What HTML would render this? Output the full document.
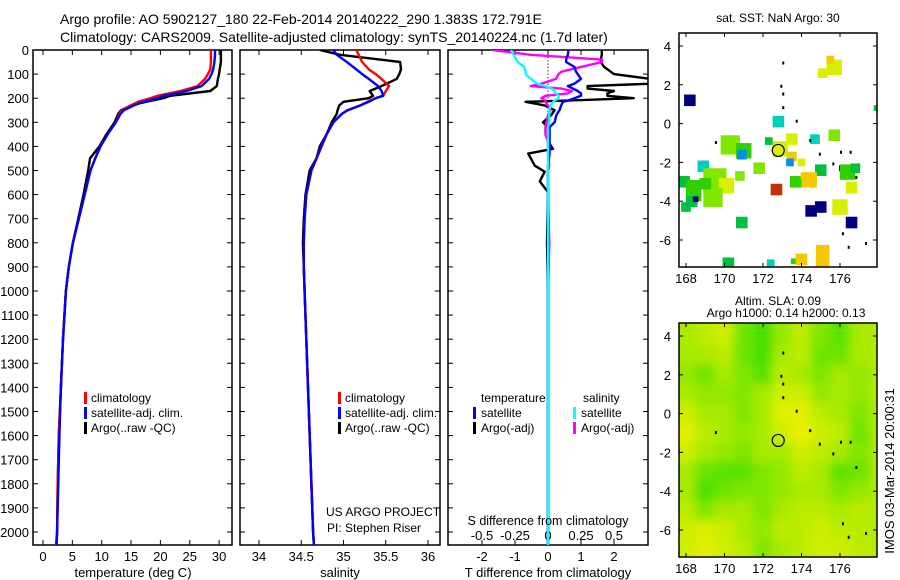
<!DOCTYPE html>
<html><head><meta charset="utf-8"><style>
html,body{margin:0;padding:0;background:#fff;}
svg{display:block;font-family:"Liberation Sans",sans-serif;}
text{fill:#000;}
</style></head><body>
<svg id="fig" width="900" height="580" viewBox="0 0 900 580" xmlns="http://www.w3.org/2000/svg">
<text x="60" y="24" font-size="14">Argo profile: AO 5902127_180 22-Feb-2014 20140222_290 1.383S 172.791E</text>
<text x="60" y="42" font-size="14">Climatology: CARS2009. Satellite-adjusted climatology: synTS_20140224.nc (1.7d later)</text>
<g id="g"></g>
</svg>
<script>
// ---------- data ----------
const depthTicks=[0,100,200,300,400,500,600,700,800,900,1000,1100,1200,1300,1400,1500,1600,1700,1800,1900,2000];
const tempTicks=[0,5,10,15,20,25,30];
const salTicks=[34,34.5,35,35.5,36];
const tdTicks=[-2,-1,0,1,2];
const sdTicks=[-0.5,-0.25,0,0.25,0.5];
const sdTickLabels=["-0.5","-0.25","0","0.25","0.5"];
const profDepth=[0,20,50,80,100,120,150,170,190,200,215,230,250,265,300,350,400,450,500,600,700,800,900,1000,1200,1400,1600,1800,2000,2054];
const tempClim=[28.6,28.6,28.6,28.5,28.1,27.6,26.3,23.4,19.5,18.3,16.2,14.9,13.5,13.0,12.4,11.0,9.8,8.9,8.1,7.1,6.1,5.1,4.4,3.9,3.4,3.05,2.7,2.5,2.4,2.2];
const tempSat=[29.3,29.3,29.2,29.0,28.7,28.3,27.0,24.5,20.5,19.5,17.0,15.5,13.8,13.2,12.4,11.0,9.8,8.9,8.1,7.1,6.1,5.1,4.4,3.9,3.4,3.05,2.8,2.6,2.4,2.3];
const tempArgo=[30.3,30.3,30.3,30.1,30.0,29.8,29.6,28.5,21.7,20.5,17.5,15.0,13.3,12.8,12.2,10.8,9.6,8.0,7.7,6.9,6.0,5.1,4.4,3.9,3.4,3.05,2.7,2.5,2.4,2.3];
const salClim=[35.15,35.18,35.22,35.3,35.38,35.45,35.54,35.5,35.47,35.38,35.28,35.2,35.05,34.98,34.88,34.8,34.74,34.68,34.62,34.56,34.54,34.53,34.53,34.54,34.56,34.58,34.6,34.62,34.64,34.65];
const salSat=[34.88,34.92,35.04,35.15,35.22,35.3,35.41,35.45,35.47,35.38,35.3,35.2,35.05,34.98,34.88,34.8,34.74,34.68,34.62,34.56,34.54,34.53,34.53,34.54,34.56,34.58,34.6,34.62,34.64,34.65];
const salArgo=[34.72,34.96,35.67,35.68,35.66,35.63,35.45,35.31,35.35,35.3,35.0,34.95,34.93,34.92,34.86,34.8,34.72,34.68,34.6,34.55,34.53,34.52,34.53,34.54,34.56,34.58,34.6,34.62,34.64,34.65];
const diffDepth=[0,20,40,50,70,90,100,120,140,150,160,170,180,190,200,210,215,230,250,270,300,320,350,380,410,430,480,505,545,590,800,1000,1500,2000,2054];
const tdSat=[0.62,0.6,0.55,0.55,0.8,0.85,0.9,1.0,0.8,0.6,0.75,0.9,1.0,1.0,0.8,0.6,0.45,0.4,0.35,0.25,0.2,0.05,0.05,0.05,0.05,0.05,0.0,0.0,0.0,0.0,0.0,0.0,0.0,0.0,0.0];
const tdArgo=[1.63,1.63,1.6,1.6,1.7,1.9,2.0,3.1,3.1,1.2,1.2,2.0,1.8,1.8,2.6,0.6,-0.68,-0.1,0.2,0.1,-0.15,0.0,0.0,0.0,0.15,-0.6,-0.4,-0.1,-0.25,0.0,-0.03,0.0,0.0,0.0,0.0];
const sdSat=[-0.28,-0.26,-0.24,-0.23,-0.18,-0.17,-0.17,-0.13,-0.08,-0.02,0.03,0.05,0.06,0.08,0.08,0.05,0.04,0.02,0.01,0.01,0.01,0.0,0.0,0.0,0.0,0.0,0.0,0.0,0.0,0.0,0.0,0.0,0.0,0.0,0.0];
const sdArgo=[-0.42,-0.13,0.41,0.41,0.25,0.1,0.08,0.06,-0.05,-0.13,0.1,0.18,0.15,-0.02,-0.05,-0.02,-0.02,0.0,0.02,0.0,-0.01,-0.02,-0.02,0.0,0.0,0.0,0.01,0.0,0.0,0.0,0.01,0.0,0.0,0.0,0.0];
const mapLonTicks=[168,170,172,174,176];
const mapLatTicks=[4,2,0,-2,-4,-6];
const sstLon=[168.2,174.5,175.0,176.6,176.1,172.8,168.9,174.7,170.2,170.9,172.3,173.7,175.0,175.7,177.9,173.6,175.1,174.0,175.1,172.7,172.9,173.5,173.5,174.0,175.1,175.7,175.5,176.6,176.0,174.4,170.3,171.8,169.5,170.1,169.4,167.9,168.4,168.3,168.0,168.6,169.0,170.8,171.0,173.4,170.9,176.4,176.8,174.1,172.4,168.5];
const sstLat=[1.2,-4.5,-4.3,-5.1,-2.3,0.1,-2.2,-0.8,-7.2,-5.1,-0.9,-3.0,-2.4,-0.6,0.8,-7.1,-6.6,-7.0,-7.1,-3.4,-1.3,-1.7,-0.8,-2.0,2.6,2.9,3.3,-3.3,-4.3,-2.9,-1.1,-2.3,-2.9,-3.2,-3.8,-3.0,-3.3,-4.0,-4.3,-3.8,-3.1,-2.7,-1.4,-2.0,-1.6,-2.5,-2.3,-2.7,-7.2,-3.9];
const sstSize=[0.6,0.6,0.6,0.6,0.3,0.6,0.6,0.5,0.6,0.6,0.4,0.6,0.6,0.6,0.3,0.3,0.7,0.6,0.7,0.6,0.8,0.5,0.6,0.4,0.5,0.8,0.4,0.6,0.8,0.8,1.0,0.6,1.2,0.8,1.0,0.6,0.8,0.6,0.5,0.4,0.6,0.5,0.8,0.4,0.5,0.8,0.5,0.3,0.4,0.3];
const sstCls=[0,0,0,0,0,1,1,1,2,2,2,3,2,4,2,3,6,6,6,7,5,6,5,5,5,5,6,5,5,6,4,4,4,5,4,2,3,2,2,3,3,4,3,8,8,3,2,6,1,0];
const slaLats=[4,3,2,1,0,-1,-2,-3,-4,-5,-6,-7];
const slaLons=[168,169,170,171,172,173,174,175,176,177];
const slaGrid=[
[.6,.7,.8,.3,.1,.5,.7,.4,.2,.6],
[.6,.6,.7,.3,.1,.6,.7,.3,.3,.6],
[.5,.3,.6,.4,.2,.7,.6,.4,.6,.5],
[.6,.5,.5,.4,.6,.8,.8,.5,.6,.5],
[.8,.6,.6,.4,.6,.9,.9,.7,.6,.4],
[.9,.7,.6,.5,.6,.8,.95,.8,.7,.3],
[.8,.6,.5,.4,.6,.6,.8,.7,.6,.4],
[.6,.3,.2,.2,.4,.5,.7,.6,.2,.3],
[.6,.1,.3,.4,.4,.5,.6,.6,.4,.5],
[.7,.4,.6,.6,.4,.6,.7,.7,.6,.7],
[.8,.85,.8,.6,.5,.7,.7,.8,.7,.7],
[.8,.9,.8,.7,.4,.6,.7,.8,.8,.7]];
const argoLon=172.791, argoLat=-1.383;

// ---------- drawing ----------
const NS="http://www.w3.org/2000/svg";
const G=document.getElementById('g');
function el(tag,attrs,parent){const e=document.createElementNS(NS,tag);for(const k in attrs)e.setAttribute(k,attrs[k]);(parent||G).appendChild(e);return e;}
function txt(x,y,s,size,anchor,name,parent){const t=el('text',{x:x,y:y,'font-size':size||12,'text-anchor':anchor||'start'},parent);t.textContent=s;


return t;}
const pTop=50,pBot=545,dMax=2054;
const yD=d=>pTop+(d/dMax)*(pBot-pTop);
function frame(x0,x1,name){const r=el('rect',{x:x0,y:pTop,width:x1-x0,height:pBot-pTop,fill:'none',stroke:'#000','stroke-width':1.5});

}
function yTicks(x0,x1,labels){depthTicks.forEach(d=>{const y=yD(d);
el('line',{x1:x0,y1:y,x2:x0+5,y2:y,stroke:'#000'});el('line',{x1:x1,y1:y,x2:x1-5,y2:y,stroke:'#000'});
if(labels)txt(x0-4,y+5,String(d),13,'end','depth-tick-label');});}
function xTicks(vals,fx,labs,ly,name){vals.forEach((v,i)=>{const x=fx(v);
el('line',{x1:x,y1:pTop,x2:x,y2:pTop+5,stroke:'#000'});el('line',{x1:x,y1:pBot,x2:x,y2:pBot-5,stroke:'#000'});
txt(x,ly,labs[i],13,'middle',name);});}
function legBar(x,y,color){el('rect',{x:x,y:y-10,width:3,height:12,fill:color});}
function lineIn(group,xs,ds,fx,color,name){const p=xs.map((v,i)=>fx(v).toFixed(1)+','+yD(ds[i]).toFixed(1)).join(' ');
const l=el('polyline',{points:p,fill:'none',stroke:color,'stroke-width':2.4,'stroke-linejoin':'round'},group);

}

const defs=el('defs',{});
[[33,232,'c1'],[240,440,'c2'],[448,648,'c3']].forEach(a=>{const cp=el('clipPath',{id:a[2]},defs);el('rect',{x:a[0],y:pTop,width:a[1]-a[0],height:pBot-pTop},cp);});
const flt=el('filter',{id:'blur',x:'-10%',y:'-10%',width:'120%',height:'120%'},defs);
el('feGaussianBlur',{stdDeviation:5},flt);

// Panel 1 temperature
const xT=t=>43+t*5.87;
frame(33,232,'temperature-panel-frame');yTicks(33,232,true);
xTicks(tempTicks,xT,tempTicks.map(String),561,'temperature-tick-label');
const p1=el('g',{'clip-path':'url(#c1)'});
lineIn(p1,tempArgo,profDepth,xT,'#000','temp-argo-line');
lineIn(p1,tempClim,profDepth,xT,'#f00','temp-climatology-line');
lineIn(p1,tempSat,profDepth,xT,'#00f','temp-satellite-line');
txt(133,577,'temperature (deg C)',13,'middle','temperature-axis-title');
legBar(84,402,'#f00');txt(91,402,'climatology',12,'start','legend-climatology');
legBar(84,417,'#00f');txt(91,417,'satellite-adj. clim.',12,'start','legend-satellite');
legBar(84,432,'#000');txt(91,432,'Argo(..raw -QC)',12,'start','legend-argo');

// Panel 2 salinity
const xS=s=>259+(s-34)*84.5;
frame(240,440,'salinity-panel-frame');yTicks(240,440,false);
xTicks(salTicks,xS,['34','34.5','35','35.5','36'],561,'salinity-tick-label');
const p2=el('g',{'clip-path':'url(#c2)'});
lineIn(p2,salArgo,profDepth,xS,'#000','salinity-argo-line');
lineIn(p2,salClim,profDepth,xS,'#f00','salinity-climatology-line');
lineIn(p2,salSat,profDepth,xS,'#00f','salinity-satellite-line');
txt(340,577,'salinity',13,'middle','salinity-axis-title');
legBar(338,402,'#f00');txt(345,402,'climatology',12,'start','legend-climatology');
legBar(338,417,'#00f');txt(345,417,'satellite-adj. clim.',12,'start','legend-satellite');
legBar(338,432,'#000');txt(345,432,'Argo(..raw -QC)',12,'start','legend-argo');
txt(326,516,'US ARGO PROJECT',12,'start','project-label');
txt(327,532,'PI: Stephen Riser',12,'start','pi-label');

// Panel 3 differences
const xTD=v=>548+v*33;
const xSD=v=>548+v*132;
frame(448,648,'difference-panel-frame');yTicks(448,648,false);
xTicks(tdTicks,xTD,tdTicks.map(String),561,'t-diff-tick-label');
sdTicks.forEach((v,i)=>{txt(xSD(v),540,sdTickLabels[i],13,'middle','s-diff-tick-label');});
for(let d=0;d<260;d+=14){el('rect',{x:547.5,y:yD(d),width:1,height:1.2,fill:'#000'});}
const p3=el('g',{'clip-path':'url(#c3)'});
lineIn(p3,tdArgo,diffDepth,xTD,'#000','t-diff-argo-line');
lineIn(p3,sdArgo,diffDepth,xSD,'#f0f','s-diff-argo-line');
lineIn(p3,tdSat,diffDepth,xTD,'#00f','t-diff-satellite-line');
lineIn(p3,sdSat,diffDepth,xSD,'#0ff','s-diff-satellite-line');
txt(548,525,'S difference from climatology',12.5,'middle','s-diff-axis-title');
txt(548,577,'T difference from climatology',13,'middle','t-diff-axis-title');
txt(481,402,'temperature',12,'start','legend-temperature-header');
txt(583,402,'salinity',12,'start','legend-salinity-header');
legBar(473,417,'#00f');txt(481,417,'satellite',12,'start','legend-t-satellite');
legBar(473,432,'#000');txt(481,432,'Argo(-adj)',12,'start','legend-t-argo');
legBar(573,417,'#0ff');txt(581,417,'satellite',12,'start','legend-s-satellite');
legBar(573,432,'#f0f');txt(581,432,'Argo(-adj)',12,'start','legend-s-argo');

// Maps
const mx0=679,mx1=877;
const xL=l=>686+(l-168)*19.25;
function makeMap(y0){return {y0:y0,yLat:la=>y0+13+(4-la)*19.4};}
const m1=makeMap(33), m2=makeMap(323);
const sstColors=['#00007f','#00d0b8','#00c040','#30d000','#80e800','#d8f000','#f5c800','#c03000','#0090f0'];
const cp1=el('clipPath',{id:'m1'},defs);el('rect',{x:mx0,y:33,width:mx1-mx0,height:234},cp1);
const g1=el('g',{'clip-path':'url(#m1)'});


sstLon.forEach((lo,i)=>{const s=sstSize[i]*19.3;
const r=el('rect',{x:xL(lo)-s/2,y:m1.yLat(sstLat[i])-s/2,width:s,height:s,fill:sstColors[sstCls[i]]},g1);

});
const cp2=el('clipPath',{id:'m2'},defs);el('rect',{x:mx0,y:323,width:mx1-mx0,height:234},cp2);
const g2o=el('g',{'clip-path':'url(#m2)'});


function slaColor(v){const r=Math.round(50+v*195),g=Math.round(222+v*20);return 'rgb('+r+','+g+',0)';}
el('rect',{x:mx0,y:323,width:mx1-mx0,height:234,fill:slaColor(.65)},g2o);
const g2=el('g',{filter:'url(#blur)'},g2o);
slaLats.forEach((la,r)=>slaLons.forEach((lo,c)=>{
const cell=el('rect',{x:xL(lo)-10,y:m2.yLat(la)-10,width:20.5,height:20.5,fill:slaColor(slaGrid[r][c])},g2);

}));
// edge padding cells so blur doesn't fade at edges
slaLats.forEach((la,r)=>{el('rect',{x:xL(167)-10,y:m2.yLat(la)-10,width:20.5,height:20.5,fill:slaColor(slaGrid[r][0])},g2);});
slaLons.forEach((lo,c)=>{el('rect',{x:xL(lo)-10,y:m2.yLat(5)-10,width:20.5,height:20.5,fill:slaColor(slaGrid[0][c])},g2);
el('rect',{x:xL(lo)-10,y:m2.yLat(-8)-10,width:20.5,height:20.5,fill:slaColor(slaGrid[11][c])},g2);});
[[m1,'sst-map'],[m2,'sla-map']].forEach(a=>{const m=a[0];
const fr=el('rect',{x:mx0,y:m.y0,width:mx1-mx0,height:234,fill:'none',stroke:'#000','stroke-width':1.5});


mapLonTicks.forEach(lo=>{const x=xL(lo);el('line',{x1:x,y1:m.y0,x2:x,y2:m.y0+4,stroke:'#000'});el('line',{x1:x,y1:m.y0+234,x2:x,y2:m.y0+230,stroke:'#000'});
txt(x,m.y0+250,String(lo),13,'middle',a[1]+'-lon-label');});
mapLatTicks.forEach(la=>{const y=m.yLat(la);el('line',{x1:mx0,y1:y,x2:mx0+4,y2:y,stroke:'#000'});el('line',{x1:mx1,y1:y,x2:mx1-4,y2:y,stroke:'#000'});
txt(671,y+5,String(la),13,'end',a[1]+'-lat-label');});
[[173,3.2],[172.9,2],[173,1.6],[173,0.9],[173.7,0.2],[174.4,-0.8],[174.9,-1.5],[175.6,-2],[176,-1.4],[176.5,-1.4],[176.8,-2.7],[176.1,-5.6],[176.4,-6.3],[177.3,-6.1],[169.5,-0.9]].forEach(p=>el('rect',{x:xL(p[0]),y:m.yLat(p[1]),width:2,height:3,fill:'#000'}));
const c=el('circle',{cx:xL(argoLon),cy:m.yLat(argoLat),r:6,fill:'none',stroke:'#000','stroke-width':1.2});


});
txt(778,22,'sat. SST: NaN Argo: 30',12,'middle','sst-map-title');
txt(778,305,'Altim. SLA: 0.09',12,'middle','sla-map-title');
txt(786,317,'Argo h1000: 0.14 h2000: 0.13',12,'middle','argo-height-label');
const v=txt(0,0,'IMOS 03-Mar-2014 20:00:31',13,'middle','imos-timestamp');
v.setAttribute('transform','translate(894,471) rotate(-90)');
</script>
</body></html>
